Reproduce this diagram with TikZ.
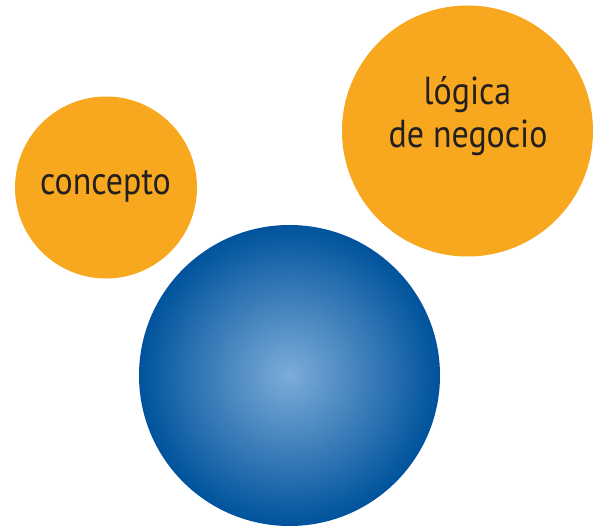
\documentclass[tikz,border=0pt]{standalone}
\usepackage{fontspec}
\setmainfont[FakeStretch=0.87]{PT Sans}
\definecolor{orangeball}{HTML}{F8A81E}
\definecolor{txtdark}{HTML}{231F20}
\definecolor{blueinner}{HTML}{7EADDA}
\definecolor{blueouter}{HTML}{00539C}
\tikzset{
  oball/.style={circle, fill=orangeball, draw=none, inner sep=0pt},
  bball/.style={circle, draw=none, inner sep=0pt},
  label text/.style={text=txtdark, font=\fontsize{39}{43}\selectfont, inner sep=0pt, anchor=base}
}
\begin{document}
\begin{tikzpicture}[x=1pt,y=-1pt]
\useasboundingbox (0,0) rectangle (600,526);
\node[oball, minimum size=182pt] (concepto) at (106,187.5) {};
\node[oball, minimum size=251pt] (logica) at (467.5,131) {};
\node[bball, minimum size=301pt] (centro) at (289.5,375.5) {};
\foreach \i in {100,99,...,1} {
  \fill[blueouter!\i!blueinner] (centro.center) circle[radius=1.505pt*\i];
}
\node[label text] (tconcepto) at (105.5,195) {concepto};
\node[label text] (tlogica1) at (467.5,105) {lógica};
\node[label text] (tlogica2) at (468,148) {de negocio};
\end{tikzpicture}
\end{document}
